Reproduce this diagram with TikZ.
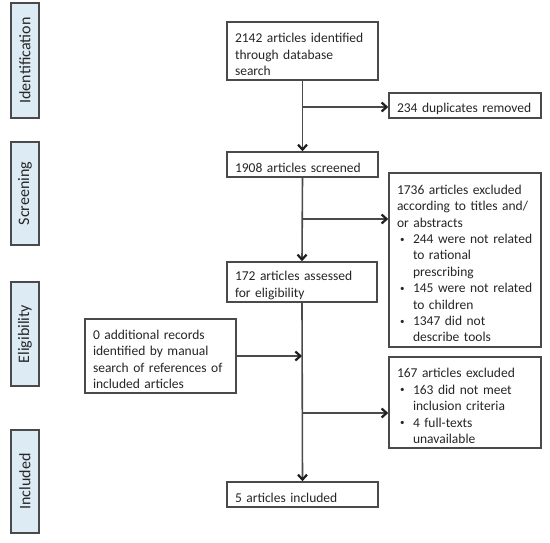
\documentclass[tikz,border=0pt]{standalone}
\usepackage{fontspec}
\setmainfont{Carlito}
\usetikzlibrary{arrows.meta}
\definecolor{ln}{HTML}{4A4A4A}
\definecolor{tip}{HTML}{1E1E1E}
\definecolor{txt}{HTML}{262626}
\definecolor{sidefill}{HTML}{DDEBF5}
\newcommand{\fsz}{\fontsize{13.5}{16.4}\selectfont}
\newcommand{\txl}[1]{\par\noindent\mbox{#1}}
\newcommand{\bfirst}[1]{\par\noindent\makebox[16pt][l]{\hspace{3pt}\raisebox{1.5pt}{\fontsize{9}{9}\selectfont•}}\mbox{#1}}
\newcommand{\bcont}[1]{\par\noindent\hspace*{16pt}\mbox{#1}}
\begin{document}
\begin{tikzpicture}[x=1pt,y=-1pt,
  flowbox/.style={draw=ln, line width=1.5pt, fill=white, inner xsep=8pt, inner ysep=0pt,
    text width=#1, align=left, font=\fsz, text=txt},
  sidebox/.style={draw=ln, line width=1.6pt, fill=sidefill, rotate=90, inner sep=0pt,
    minimum height=28pt, font=\fontsize{16}{19}\selectfont, text=txt},
  flowarrow/.style={draw=ln, line width=1.6pt,
    -{Straight Barb[length=5pt,width=9pt,line width=2.2pt,color=tip]}}
]
\useasboundingbox (0,0) rectangle (550,542);

% side labels
\node[sidebox, minimum width=115pt] (sid) at (25,60.5) {Identification};
\node[sidebox, minimum width=103pt] (sscr) at (25,193.5) {Screening};
\node[sidebox, minimum width=104pt] (selg) at (25,334) {Eligibility};
\node[sidebox, minimum width=103pt] (sinc) at (25,481.5) {Included};

% main column
\node[flowbox=135pt, minimum height=58pt] (n1) at (302.5,51)
  {\txl{2142 articles identified}\txl{through database}\txl{search}};
\node[flowbox=135pt, minimum height=25pt] (n2) at (302.5,164.5)
  {\txl{1908 articles screened}};
\node[flowbox=134pt, minimum height=40pt] (n3) at (302,282)
  {\txl{172 articles assessed}\txl{for eligibility}};
\node[flowbox=135pt, minimum height=25pt] (n4) at (302.5,494.5)
  {\txl{5 articles included}};

% side boxes
\node[flowbox=136pt, minimum height=25pt] (dup) at (465,105.5)
  {\txl{234 duplicates removed}};
\node[flowbox=136pt, minimum height=174pt] (ex1) at (465,260)
  {\txl{1736 articles excluded}\txl{according to titles and/}\txl{or abstracts}%
   \bfirst{244 were not related}\bcont{to rational}\bcont{prescribing}%
   \bfirst{145 were not related}\bcont{to children}%
   \bfirst{1347 did not}\bcont{describe tools}};
\node[flowbox=135pt, minimum height=74pt] (add) at (160.5,356)
  {\txl{0 additional records}\txl{identified by manual}\txl{search of references of}\txl{included articles}};
\node[flowbox=136pt, minimum height=91pt] (ex2) at (465,402.5)
  {\txl{167 articles excluded}%
   \bfirst{163 did not meet}\bcont{inclusion criteria}%
   \bfirst{4 full-texts}\bcont{unavailable}};

% connectors
\draw[flowarrow] (n1.south) -- (n2.north);
\draw[flowarrow] (n2.south) -- (n3.north);
\draw[flowarrow] (n3.south) -- (n4.north);

\coordinate (b1) at (n1.south |- 0,107);
\coordinate (b2) at (n2.south |- 0,219);
\coordinate (b3) at (n3.south |- 0,413);
\draw[flowarrow] (b1) -- (b1 -| dup.west);
\draw[flowarrow] (b2) -- (b2 -| ex1.west);
\draw[flowarrow] (add.east) -- (add.east -| n3.south);
\draw[flowarrow] (b3) -- (b3 -| ex2.west);
\end{tikzpicture}
\end{document}
